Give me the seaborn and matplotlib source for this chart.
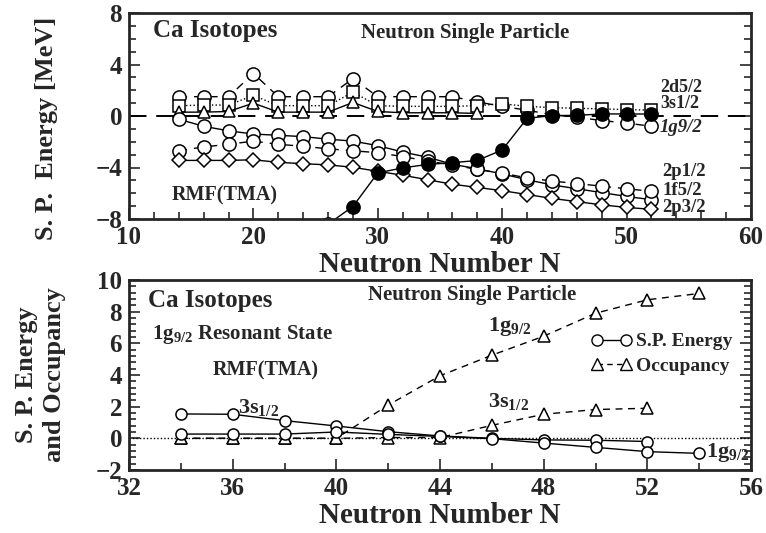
import numpy as np
import pandas as pd
import matplotlib
matplotlib.use("Agg")
import matplotlib.pyplot as plt
from matplotlib.lines import Line2D
from matplotlib.ticker import MultipleLocator
import seaborn as sns

# ---------------- data: top panel ----------------
N_top = [14, 16, 18, 20, 22, 24, 26, 28, 30, 32, 34, 36, 38, 40, 42, 44, 46, 48, 50, 52]
e_1g92 = [1.5, 1.5, 1.5, 3.3, 1.5, 1.5, 1.5, 2.9, 1.5, 1.5, 1.5, 1.5, 1.1, 0.75, 0.45, 0.1, -0.1, -0.35, -0.55, -0.8]
e_2d52 = [0.8, 0.85, 0.85, 1.6, 0.8, 0.8, 0.8, 1.85, 0.8, 0.75, 0.75, 0.75, 0.8, 0.95, 0.75, 0.65, 0.6, 0.55, 0.5, 0.45]
N_3s = [14, 16, 18, 20, 22, 24, 26, 28, 30, 32, 34, 36, 38]
e_3s12 = [0.3, 0.3, 0.35, 1.0, 0.3, 0.3, 0.3, 1.05, 0.35, 0.25, 0.25, 0.25, 0.2]
e_1f52 = [-0.25, -0.8, -1.15, -1.4, -1.5, -1.6, -1.8, -1.95, -2.3, -2.8, -3.2, -3.75, -4.1, -4.5, -4.95, -5.35, -5.65, -5.95, -6.25, -6.5]
e_2p12 = [-2.7, -2.4, -2.2, -1.95, -2.2, -2.35, -2.55, -2.7, -2.85, -3.15, -3.5, -3.8, -4.15, -4.45, -4.8, -5.05, -5.25, -5.45, -5.65, -5.85]
e_2p32 = [-3.45, -3.45, -3.45, -3.4, -3.6, -3.7, -3.8, -3.98, -4.3, -4.6, -4.95, -5.3, -5.55, -5.8, -6.1, -6.4, -6.65, -6.9, -7.1, -7.25]
N_fermi = [26, 28, 30, 32, 34, 36, 38, 40, 42, 44, 46, 48, 50, 52]
e_fermi = [-8.4, -7.03, -4.42, -4.03, -3.76, -3.63, -3.45, -2.64, -0.18, 0.03, 0.05, 0.16, 0.16, 0.15]

# ---------------- data: bottom panel ----------------
N_bs = [34, 36, 38, 40, 42, 44, 46, 48, 50, 52]
sp_3s = [1.54, 1.52, 1.12, 0.78, 0.42, 0.15, 0.0, -0.1, -0.12, -0.2]
occ_3s = [0.0, 0.0, 0.0, 0.0, 0.05, 0.05, 0.82, 1.52, 1.82, 1.9]
N_bg = [34, 36, 38, 40, 42, 44, 46, 48, 50, 52, 54]
sp_1g = [0.27, 0.27, 0.27, 0.4, 0.25, 0.12, -0.02, -0.3, -0.57, -0.84, -0.95]
occ_1g = [0.0, 0.0, 0.0, 0.0, 2.1, 3.95, 5.25, 6.45, 7.9, 8.75, 9.15]

top_xticks = [10, 20, 30, 40, 50, 60]
top_yticks = [-8, -4, 0, 4, 8]
bot_xticks = [32, 36, 40, 44, 48, 52, 56]
bot_yticks = [-2, 0, 2, 4, 6, 8, 10]

sns.set_style("ticks")
plt.rcParams['font.family'] = ['Liberation Serif', 'DejaVu Serif']
plt.rcParams['font.weight'] = 'bold'
plt.rcParams['mathtext.fontset'] = 'custom'
plt.rcParams['mathtext.rm'] = 'Liberation Serif:bold'
plt.rcParams['mathtext.bf'] = 'Liberation Serif:bold'
plt.rcParams['mathtext.it'] = 'Liberation Serif:bold:italic'

W, H = 766, 533
fig = plt.figure(figsize=(W / 100, H / 100), dpi=100)

def fx(px):
    return px / W

def fy(py):
    return 1 - py / H

ax1 = fig.add_axes([fx(129), fy(219), fx(751) - fx(129), fy(13) - fy(219)])
ax2 = fig.add_axes([fx(129), fy(470), fx(751) - fx(129), fy(280) - fy(470)])

K = 'black'

def line(ax, x, y, marker, ls, ms, mfc='white', lw=1.0, dashes=None):
    kw = dict(x=x, y=y, ax=ax, color=K, marker=marker, markersize=ms,
              markerfacecolor=mfc, markeredgecolor=K, markeredgewidth=1.1,
              linewidth=lw, estimator=None, sort=False, legend=False)
    g = sns.lineplot(linestyle=ls, **kw)
    l = g.get_lines()[-1]
    if dashes is not None:
        l.set_dashes(dashes)
    l.set_clip_on(True)
    return l

# top panel
ax1.axhline(0, color=K, lw=1.4, dashes=(9, 5), zorder=1)
line(ax1, N_top, e_1g92, 'o', '--', 9.5, dashes=(6, 5))
line(ax1, N_top, e_2d52, 's', ':', 8.5)
line(ax1, N_3s, e_3s12, '^', '-', 8.5)
line(ax1, N_top, e_1f52, 'o', '-', 9.5)
line(ax1, N_top, e_2p12, 'o', '--', 9.5, dashes=(6, 5))
line(ax1, N_top, e_2p32, 'D', '-', 7)
line(ax1, N_fermi, e_fermi, 'o', '-', 9.5, mfc=K)

ax1.set_xlim(10, 60)
ax1.set_ylim(-8, 8)
ax1.set_xticks(top_xticks)
ax1.set_yticks(top_yticks)
ax1.set_yticklabels(['\u22128', '\u22124', '0', '4', '8'])
ax1.xaxis.set_minor_locator(MultipleLocator(2))
ax1.yaxis.set_minor_locator(MultipleLocator(1))
ax1.set_xlabel('')
ax1.set_ylabel('')

# bottom panel
ax2.axhline(0, color=K, lw=1.0, dashes=(1, 1.5), zorder=1)
line(ax2, N_bs, occ_3s, '^', '--', 8, dashes=(5, 4))
line(ax2, N_bg, occ_1g, '^', '--', 8, dashes=(5, 4))
line(ax2, N_bs, sp_3s, 'o', '-', 8)
line(ax2, N_bg, sp_1g, 'o', '-', 8)

ax2.set_xlim(32, 56)
ax2.set_ylim(-2, 10)
ax2.set_xticks(bot_xticks)
ax2.set_yticks(bot_yticks)
ax2.set_yticklabels(['\u22122', '0', '2', '4', '6', '8', '10'])
ax2.xaxis.set_minor_locator(MultipleLocator(2))
ax2.yaxis.set_minor_locator(MultipleLocator(0.4))
ax2.set_xlabel('')
ax2.set_ylabel('')

for ax in (ax1, ax2):
    for s in ax.spines.values():
        s.set_linewidth(2.0)
        s.set_visible(True)
    ax.tick_params(which='both', direction='in', top=False, right=True,
                   left=True, bottom=True, width=1.2, labelsize=18, pad=5)
    ax.tick_params(which='major', length=8)
    ax.tick_params(which='minor', length=5)
    for lab in ax.get_xticklabels() + ax.get_yticklabels():
        lab.set_fontweight('bold')

# texts top
fig.text(fx(153), fy(30), 'Ca Isotopes', fontsize=18, weight='bold', va='center', ha='left')
fig.text(fx(465), fy(33), 'Neutron Single Particle', fontsize=15, weight='bold', va='center', ha='center')
fig.text(fx(225), fy(195), 'RMF(TMA)', fontsize=14.5, weight='bold', va='center', ha='center')
fig.text(fx(660), fy(88), '2d5/2', fontsize=13, weight='bold', va='center', ha='left')
fig.text(fx(660), fy(104), '3s1/2', fontsize=13, weight='bold', va='center', ha='left')
fig.text(fx(660), fy(127), '1g9/2', fontsize=13.5, weight='bold', style='italic', va='center', ha='left')
fig.text(fx(662), fy(172), '2p1/2', fontsize=13.5, weight='bold', va='center', ha='left')
fig.text(fx(662), fy(190), '1f5/2', fontsize=13.5, weight='bold', va='center', ha='left')
fig.text(fx(662), fy(207), '2p3/2', fontsize=13.5, weight='bold', va='center', ha='left')
fig.text(fx(440), fy(272), 'Neutron Number N', fontsize=21, weight='bold', va='baseline', ha='center')
fig.text(fx(47), fy(128), 'S. P.  Energy [MeV]', fontsize=19, weight='bold', va='center', ha='center', rotation=90)

# texts bottom
fig.text(fx(148), fy(300), 'Ca Isotopes', fontsize=18, weight='bold', va='center', ha='left')
fig.text(fx(368), fy(295), 'Neutron Single Particle', fontsize=15, weight='bold', va='center', ha='left')
fig.text(fx(152), fy(335), r'1g$_{9/2}$ Resonant State', fontsize=15, weight='bold', va='center', ha='left')
fig.text(fx(213), fy(370), 'RMF(TMA)', fontsize=14.5, weight='bold', va='center', ha='left')
fig.text(fx(238), fy(407), r'3s$_{1/2}$', fontsize=16, weight='bold', va='center', ha='left')
fig.text(fx(488), fy(327), r'1g$_{9/2}$', fontsize=16, weight='bold', va='center', ha='left')
fig.text(fx(488), fy(402), r'3s$_{1/2}$', fontsize=16, weight='bold', va='center', ha='left')
fig.text(fx(706), fy(453), r'1g$_{9/2}$', fontsize=16, weight='bold', va='center', ha='left')
fig.text(fx(440), fy(523), 'Neutron Number N', fontsize=21, weight='bold', va='baseline', ha='center')
fig.text(fx(27), fy(375), 'S. P. Energy', fontsize=19, weight='bold', va='center', ha='center', rotation=90)
fig.text(fx(55), fy(375), 'and Occupancy', fontsize=19, weight='bold', va='center', ha='center', rotation=90)

handles = [
    Line2D([0], [0], color=K, lw=1.0, marker='o', ms=8, mfc='white', mec=K, ls='-'),
    Line2D([0], [0], color=K, lw=1.0, marker='^', ms=8, mfc='white', mec=K, ls='--', dashes=(4, 3)),
]
axw = fx(751) - fx(129)
axh = fy(280) - fy(470)
leg = ax2.legend(handles, ['S.P. Energy', 'Occupancy'], loc='upper left',
                 bbox_to_anchor=((fx(583) - fx(129)) / axw, (fy(325) - fy(470)) / axh),
                 frameon=False, numpoints=2, handlelength=2.1, handletextpad=0.25,
                 labelspacing=0.35, borderaxespad=0, prop={'size': 14, 'weight': 'bold'})

fig.savefig('out.png', dpi=100)
